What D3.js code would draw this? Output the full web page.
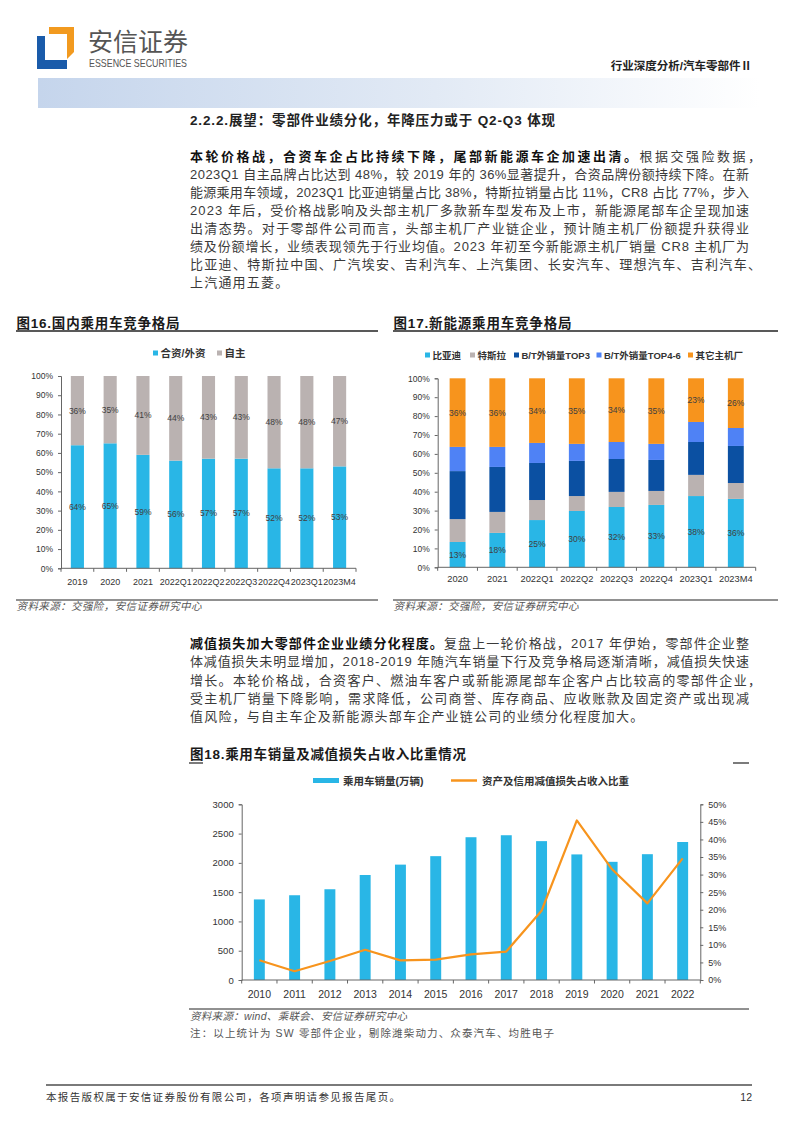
<!DOCTYPE html>
<html><head><meta charset="utf-8">
<script src="https://cdn.jsdelivr.net/npm/d3@7"></script>
<style>
body{margin:0;background:#fff;}
svg{display:block;}
</style></head><body>
<svg id="page" width="794" height="1123"></svg>
<script>
// ---------------- DATA ----------------
const fig16Categories = ["2019","2020","2021","2022Q1","2022Q2","2022Q3","2022Q4","2023Q1","2023M4"];
const fig16SeriesNames = ["合资/外资","自主"];
const fig16JointVenture = [64,65,59,56,57,57,52,52,53];
const fig16Domestic = [36,35,41,44,43,43,48,48,47];
const fig16Ticks = [0,10,20,30,40,50,60,70,80,90,100];

const fig17Categories = ["2020","2021","2022Q1","2022Q2","2022Q3","2022Q4","2023Q1","2023M4"];
const fig17SeriesNames = ["比亚迪","特斯拉","B/T外销量TOP3","B/T外销量TOP4-6","其它主机厂"];
const fig17BYD   = [13.4,18.2,25.0,29.8,31.9,33.0,37.7,36.2];
const fig17Tesla = [12.1,11.1,10.6,7.9,8.0,7.4,11.2,8.4];
const fig17Top3  = [25.4,23.8,19.6,18.6,17.4,16.4,17.4,19.6];
const fig17Top46 = [12.8,10.6,10.6,9.0,9.0,8.5,10.6,9.5];
const fig17Other = [36.3,36.3,34.2,34.7,33.7,34.7,23.1,26.3];
const fig17Ticks = [0,10,20,30,40,50,60,70,80,90,100];

const fig18Years = ["2010","2011","2012","2013","2014","2015","2016","2017","2018","2019","2020","2021","2022"];
const fig18SeriesNames = ["乘用车销量(万辆)","资产及信用减值损失占收入比重"];
const fig18Sales = [1375.8,1447.2,1549.5,1792.9,1970.0,2114.6,2437.7,2471.8,2371.0,2144.4,2017.8,2148.2,2356.3];
const fig18ImpairmentRatio = [5.6,2.5,5.4,8.6,5.6,5.8,7.3,8.1,19.7,45.4,31.5,21.8,34.6];
const fig18LeftTicks = [0,500,1000,1500,2000,2500,3000];
const fig18RightTicks = [0,5,10,15,20,25,30,35,40,45,50];

// ---------------- TEXT ----------------
const para1 = [
  [{t:"本轮价格战，合资车企占比持续下降，尾部新能源车企加速出清。",b:true},{t:"根据交强险数据，"}],
  [{t:"2023Q1 自主品牌占比达到 48%，较 2019 年的 36%显著提升，合资品牌份额持续下降。在新"}],
  [{t:"能源乘用车领域，2023Q1 比亚迪销量占比 38%，特斯拉销量占比 11%，CR8 占比 77%，步入"}],
  [{t:"2023 年后，受价格战影响及头部主机厂多款新车型发布及上市，新能源尾部车企呈现加速"}],
  [{t:"出清态势。对于零部件公司而言，头部主机厂产业链企业，预计随主机厂份额提升获得业"}],
  [{t:"绩及份额增长，业绩表现领先于行业均值。2023 年初至今新能源主机厂销量 CR8 主机厂为"}],
  [{t:"比亚迪、特斯拉中国、广汽埃安、吉利汽车、上汽集团、长安汽车、理想汽车、吉利汽车、"}],
  [{t:"上汽通用五菱。"}]
];
const para2 = [
  [{t:"减值损失加大零部件企业业绩分化程度。",b:true},{t:"复盘上一轮价格战，2017 年伊始，零部件企业整"}],
  [{t:"体减值损失未明显增加，2018-2019 年随汽车销量下行及竞争格局逐渐清晰，减值损失快速"}],
  [{t:"增长。本轮价格战，合资客户、燃油车客户或新能源尾部车企客户占比较高的零部件企业，"}],
  [{t:"受主机厂销量下降影响，需求降低，公司商誉、库存商品、应收账款及固定资产或出现减"}],
  [{t:"值风险，与自主车企及新能源头部车企产业链公司的业绩分化程度加大。"}]
];

// ---------------- DRAW ----------------
const svg = d3.select("#page");
const CJK = "'Noto Sans CJK SC', sans-serif";
const MIX = "'Liberation Sans', Arial, 'Noto Sans CJK SC', sans-serif";
const NUM = "'Liberation Sans', Arial, sans-serif";
const AXIS = "#666";
const LABEL = "#404040";

const defs = svg.append("defs");
const grad = defs.append("linearGradient").attr("id","banner").attr("x1","0").attr("x2","1").attr("y1","0").attr("y2","0");
grad.append("stop").attr("offset","0").attr("stop-color","#C5D5EC");
grad.append("stop").attr("offset","0.55").attr("stop-color","#E2EAF5");
grad.append("stop").attr("offset","1").attr("stop-color","#FFFFFF");

// header
svg.append("path").attr("d","M49,27 L74,27 L74,52 L67,59 L67,34 L49,34 Z").attr("fill","#F29A1F");
svg.append("path").attr("d","M37,36 L45,36 L45,60 L67,60 L67,69 L37,69 Z").attr("fill","#1A5BAA");
svg.append("text").attr("x",88).attr("y",50.5).attr("font-family",CJK).attr("font-size",25)
  .attr("fill","#555").attr("textLength",100).attr("lengthAdjust","spacingAndGlyphs").text("安信证券");
svg.append("text").attr("x",89).attr("y",67).attr("font-family","'Liberation Sans Narrow','Liberation Sans',Arial,sans-serif")
  .attr("font-size",10.5).attr("fill","#555").attr("textLength",98).attr("lengthAdjust","spacingAndGlyphs").text("ESSENCE SECURITIES");
svg.append("text").attr("x",752).attr("y",70).attr("text-anchor","end").attr("font-family",MIX).attr("font-weight",700)
  .attr("font-size",11.5).attr("fill","#222").text("行业深度分析/汽车零部件Ⅱ");
svg.append("rect").attr("x",38).attr("y",78).attr("width",722).attr("height",30).attr("fill","url(#banner)");

// paragraphs
function drawPara(lines, x0, y0, lh, justifyEnd){
  lines.forEach((segs,i)=>{
    const last = i === lines.length-1;
    const txt = svg.append("text").attr("x",x0).attr("y",y0+i*lh)
      .attr("font-family",MIX).attr("font-size",13).attr("fill","#3a3a3a");
    if(!last){
      const full = segs.map(s=>s.t).join("");
      const endCh = full[full.length-1];
      const w = ("，、".includes(endCh)) ? (justifyEnd - x0 + 12) : (justifyEnd - x0);
      txt.attr("textLength",w).attr("lengthAdjust","spacing");
    } else {
      txt.attr("letter-spacing",1.2);
    }
    segs.forEach(s=>{
      const ts = txt.append("tspan").text(s.t);
      if(s.b){ ts.attr("font-weight",700).attr("fill","#111"); }
    });
  });
}
svg.append("text").attr("x",190).attr("y",125).attr("font-family",MIX).attr("font-weight",700).attr("font-size",13.5)
  .attr("fill","#222").attr("textLength",365).attr("lengthAdjust","spacing").text("2.2.2.展望：零部件业绩分化，年降压力或于 Q2-Q3 体现");
drawPara(para1,190,161.3,18,749);
drawPara(para2,190,647.9,18.35,749);

// chart helpers
function title(x,y,txt,len){
  svg.append("text").attr("x",x).attr("y",y).attr("font-family",MIX).attr("font-weight",700).attr("font-size",13.5)
    .attr("fill","#1a1a1a").attr("textLength",len).attr("lengthAdjust","spacing").text(txt);
}
function hline(x1,x2,y,w,c){
  svg.append("line").attr("x1",x1).attr("x2",x2).attr("y1",y).attr("y2",y).attr("stroke",c||"#222").attr("stroke-width",w||1);
}
function source(x,y,txt,len,italic){
  const t = svg.append("text").attr("x",x).attr("y",y).attr("font-family",MIX).attr("font-size",10.5)
    .attr("fill","#555").text(txt);
  if(italic) t.attr("font-style","italic");
  if(len) t.attr("textLength",len).attr("lengthAdjust","spacing");
}
function styleAxis(g,fs){
  g.select(".domain").attr("stroke",AXIS);
  g.selectAll(".tick line").attr("stroke",AXIS);
  g.selectAll(".tick text").attr("font-family",NUM).attr("font-size",fs).attr("fill","#333");
}
function bottomAxis(x,y0,fs,labelY){
  const [r0,r1] = x.range();
  hline(r0,r1,y0,1,AXIS);
  const n = x.domain().length;
  for(let i=0;i<=n;i++){
    const px = r0 + i*x.step();
    svg.append("line").attr("x1",px).attr("x2",px).attr("y1",y0).attr("y2",y0+3.5).attr("stroke",AXIS);
  }
  svg.append("g").selectAll("text").data(x.domain()).join("text")
    .attr("x",d=>x(d)+x.bandwidth()/2).attr("y",labelY).attr("text-anchor","middle")
    .attr("font-family",NUM).attr("font-size",fs).attr("fill","#333").text(d=>d);
}
function legendSquare(x,y,color,label,fs){
  svg.append("rect").attr("x",x).attr("y",y-2.5).attr("width",5).attr("height",5).attr("fill",color);
  svg.append("text").attr("x",x+7.5).attr("y",y+3.5).attr("font-family",MIX).attr("font-weight",700)
    .attr("font-size",fs).attr("fill","#333").text(label);
}

// ---------- Figure 16 ----------
title(16.5,328,"图16.国内乘用车竞争格局",163);
hline(16,378,331,1.5,"#222");
const c16 = ["#29B6E6","#BAB2B1"];
legendSquare(153,353,c16[0],fig16SeriesNames[0],10.5);
legendSquare(217,353,c16[1],fig16SeriesNames[1],10.5);
const x16 = d3.scaleBand().domain(fig16Categories).range([61,356]).paddingInner(0.6).paddingOuter(0.3);
const y16 = d3.scaleLinear().domain([0,100]).range([568.3,376]);
const rows16 = fig16Categories.map((c,i)=>({cat:c, jv:fig16JointVenture[i], dom:fig16Domestic[i]}));
const st16 = d3.stack().keys(["jv","dom"])(rows16);
const g16 = svg.append("g");
st16.forEach((layer,li)=>{
  g16.append("g").attr("fill",c16[li]).selectAll("rect").data(layer).join("rect")
    .attr("x",d=>x16(d.data.cat)).attr("y",d=>y16(d[1])).attr("width",x16.bandwidth())
    .attr("height",d=>y16(d[0])-y16(d[1]));
  g16.append("g").selectAll("text").data(layer).join("text")
    .attr("x",d=>x16(d.data.cat)+x16.bandwidth()/2).attr("y",d=>y16((d[0]+d[1])/2)+3)
    .attr("text-anchor","middle").attr("font-family",NUM).attr("font-size",8.5).attr("fill",LABEL)
    .text(d=>Math.round(d[1]-d[0])+"%");
});
const ax16 = svg.append("g").attr("transform","translate(61,0)")
  .call(d3.axisLeft(y16).tickValues(fig16Ticks).tickFormat(d=>d+"%").tickSize(3).tickPadding(5));
styleAxis(ax16,8.5);
bottomAxis(x16,568.3,9,585);
hline(16,378,600,1,"#222");
source(16.5,610,"资料来源：交强险，安信证券研究中心",185,true);

// ---------- Figure 17 ----------
title(393.5,328,"图17.新能源乘用车竞争格局",178);
hline(393,778,331,1.5,"#222");
const c17 = ["#29B6E6","#BAB2B1","#0B50A2","#4F82F5","#F7941D"];
const leg17x = [425,470,514,596.5,688];
fig17SeriesNames.forEach((n,i)=>legendSquare(leg17x[i],355,c17[i],n,9.5));
const x17 = d3.scaleBand().domain(fig17Categories).range([437.7,755.7]).paddingInner(0.6).paddingOuter(0.3);
const y17 = d3.scaleLinear().domain([0,100]).range([567.3,378.3]);
const keys17 = ["byd","tesla","top3","top46","other"];
const rows17 = fig17Categories.map((c,i)=>({cat:c, byd:fig17BYD[i], tesla:fig17Tesla[i], top3:fig17Top3[i], top46:fig17Top46[i], other:fig17Other[i]}));
const st17 = d3.stack().keys(keys17)(rows17);
const g17 = svg.append("g");
st17.forEach((layer,li)=>{
  g17.append("g").attr("fill",c17[li]).selectAll("rect").data(layer).join("rect")
    .attr("x",d=>x17(d.data.cat)).attr("y",d=>y17(d[1])).attr("width",x17.bandwidth())
    .attr("height",d=>y17(d[0])-y17(d[1]));
  if(li===0 || li===4){
    g17.append("g").selectAll("text").data(layer).join("text")
      .attr("x",d=>x17(d.data.cat)+x17.bandwidth()/2).attr("y",d=>y17((d[0]+d[1])/2)+3)
      .attr("text-anchor","middle").attr("font-family",NUM).attr("font-size",8.5).attr("fill",LABEL)
      .text(d=>Math.round(d[1]-d[0])+"%");
  }
});
const ax17 = svg.append("g").attr("transform","translate(437.7,0)")
  .call(d3.axisLeft(y17).tickValues(fig17Ticks).tickFormat(d=>d+"%").tickSize(3).tickPadding(5));
styleAxis(ax17,8.5);
bottomAxis(x17,567.3,9.3,581.8);
hline(393,778,600,1,"#222");
source(393.5,610,"资料来源：交强险，安信证券研究中心",185,true);

// ---------- Figure 18 ----------
title(190,759,"图18.乘用车销量及减值损失占收入比重情况",276);
hline(189,203,763,1.2,"#222");
hline(733,749,763,1.2,"#222");
svg.append("rect").attr("x",313).attr("y",778).attr("width",26).attr("height",5).attr("fill","#29B6E6");
svg.append("text").attr("x",343).attr("y",785).attr("font-family",MIX).attr("font-weight",700).attr("font-size",10.5)
  .attr("fill","#333").text(fig18SeriesNames[0]);
hline(451,477,780.5,2.5,"#F7941D");
svg.append("text").attr("x",482).attr("y",785).attr("font-family",MIX).attr("font-weight",700).attr("font-size",10.5)
  .attr("fill","#333").text(fig18SeriesNames[1]);
const x18 = d3.scaleBand().domain(fig18Years).range([241.7,700.3]).paddingInner(0.69).paddingOuter(0.345);
const yL18 = d3.scaleLinear().domain([0,3000]).range([980,804.3]);
const yR18 = d3.scaleLinear().domain([0,50]).range([980,804.3]);
svg.append("g").attr("fill","#29B6E6").selectAll("rect").data(fig18Years).join("rect")
  .attr("x",d=>x18(d)).attr("width",x18.bandwidth())
  .attr("y",(d,i)=>yL18(fig18Sales[i])).attr("height",(d,i)=>yL18(0)-yL18(fig18Sales[i]));
const line18 = d3.line().x((d,i)=>x18(fig18Years[i])+x18.bandwidth()/2).y(d=>yR18(d));
svg.append("path").datum(fig18ImpairmentRatio).attr("d",line18).attr("fill","none")
  .attr("stroke","#F7941D").attr("stroke-width",2.2).attr("stroke-linejoin","round");
const axL18 = svg.append("g").attr("transform","translate(241.7,0)")
  .call(d3.axisLeft(yL18).tickValues(fig18LeftTicks).tickFormat(d3.format("d")).tickSize(3).tickPadding(5));
styleAxis(axL18,9.5);
const axR18 = svg.append("g").attr("transform","translate(700.3,0)")
  .call(d3.axisRight(yR18).tickValues(fig18RightTicks).tickFormat(d=>d+"%").tickSize(3).tickPadding(5));
styleAxis(axR18,9);
bottomAxis(x18,980,10.5,998);
hline(189,749,1009,1,"#222");
source(190,1020,"资料来源：wind、乘联会、安信证券研究中心",217,true);
source(190,1037,"注：以上统计为 SW 零部件企业，剔除潍柴动力、众泰汽车、均胜电子",364,false);

// footer
hline(46,752,1085,2,"#7a7a7a");
svg.append("text").attr("x",46).attr("y",1101).attr("font-family",MIX).attr("font-size",10.5).attr("fill","#333")
  .attr("textLength",354).attr("lengthAdjust","spacing").text("本报告版权属于安信证券股份有限公司，各项声明请参见报告尾页。");
svg.append("text").attr("x",752).attr("y",1101).attr("text-anchor","end").attr("font-family",NUM).attr("font-size",10.5)
  .attr("fill","#333").text("12");
</script>
</body></html>
